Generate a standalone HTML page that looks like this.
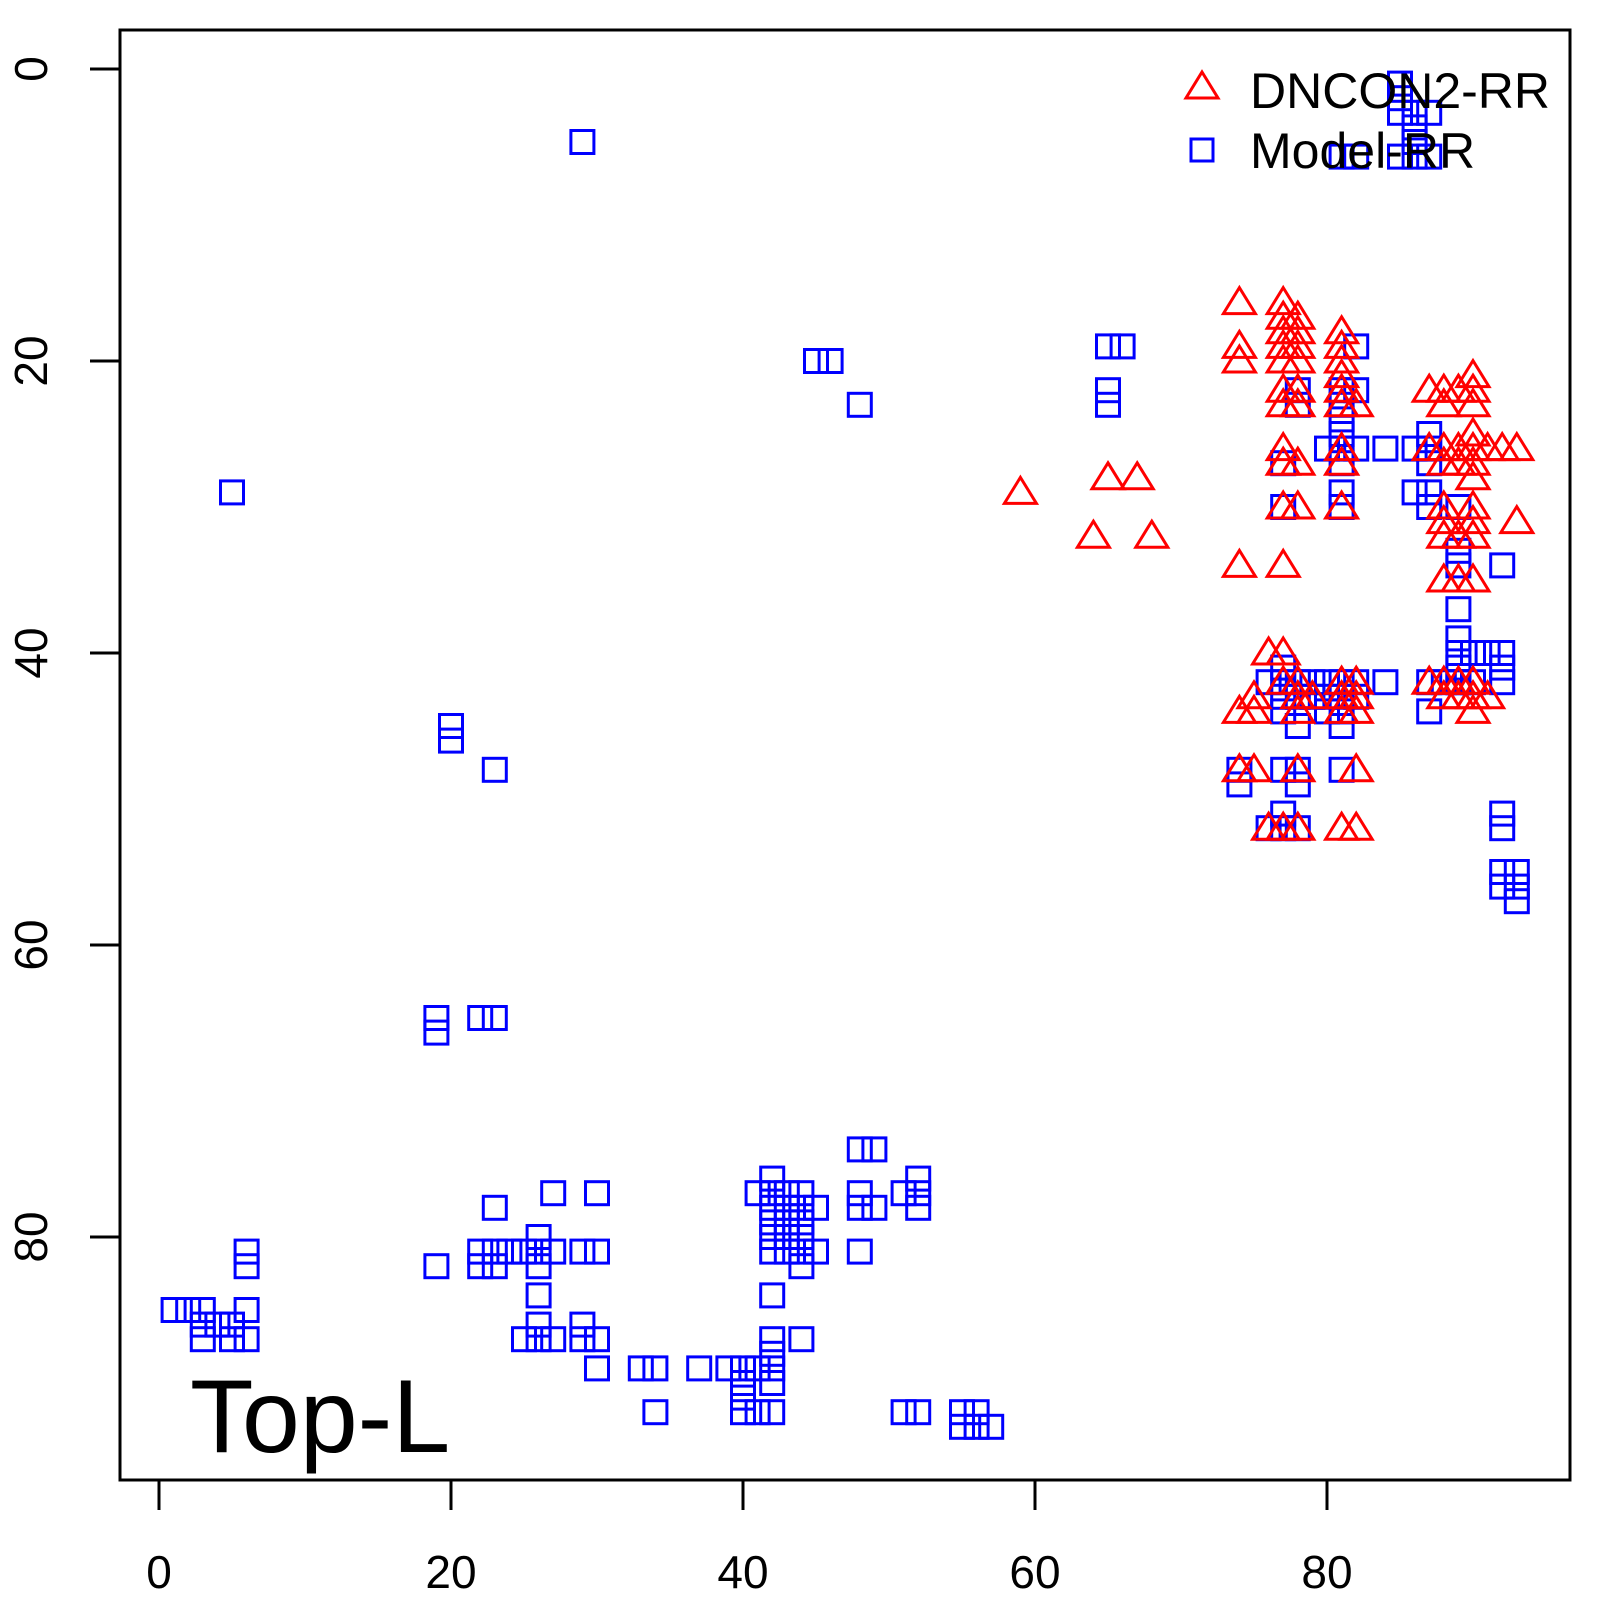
<!DOCTYPE html>
<html><head><meta charset="utf-8"><style>
html,body{margin:0;padding:0;background:#fff;}
svg{display:block;}
text{font-family:"Liberation Sans",sans-serif;}
</style></head><body>
<svg id="s" width="1600" height="1600" xmlns="http://www.w3.org/2000/svg">
<rect x="120" y="30" width="1450" height="1450" fill="none" stroke="#000" stroke-width="3"/>
<g stroke="#000" stroke-width="3">
<line x1="159" y1="1480" x2="159" y2="1510"/><line x1="451" y1="1480" x2="451" y2="1510"/><line x1="743" y1="1480" x2="743" y2="1510"/><line x1="1035" y1="1480" x2="1035" y2="1510"/><line x1="1327" y1="1480" x2="1327" y2="1510"/>
<line x1="90" y1="69" x2="120" y2="69"/><line x1="90" y1="361" x2="120" y2="361"/><line x1="90" y1="653" x2="120" y2="653"/><line x1="90" y1="945" x2="120" y2="945"/><line x1="90" y1="1237" x2="120" y2="1237"/>
</g>
<g font-size="46" text-anchor="middle">
<text x="159" y="1588">0</text><text x="451" y="1588">20</text><text x="743" y="1588">40</text><text x="1035" y="1588">60</text><text x="1327" y="1588">80</text>
<text transform="translate(47,69) rotate(-90)">0</text><text transform="translate(47,361) rotate(-90)">20</text><text transform="translate(47,653) rotate(-90)">40</text><text transform="translate(47,945) rotate(-90)">60</text><text transform="translate(47,1237) rotate(-90)">80</text>
</g>
<text x="190" y="1452" font-size="104">Top-L</text>
<g id="sq" fill="none" stroke="#0000ff" stroke-width="3"></g>
<g id="tr" fill="none" stroke="#ff0000" stroke-width="3"></g>
<polygon points="1202,72 1218,98 1186,98" fill="none" stroke="#ff0000" stroke-width="3"/>
<rect x="1191" y="139" width="22" height="22" fill="none" stroke="#0000ff" stroke-width="3"/>
<text x="1250" y="108" font-size="50">DNCON2-RR</text>
<text x="1250" y="168" font-size="50">Model-RR</text>
</svg>
<script>
var S=[[29,5],[5,29],[45,20],[46,20],[48,23],[65,19],[66,19],[65,22],[65,23],[20,45],[20,46],[23,48],[19,65],[19,66],[22,65],[23,65],
[85,1],[85,2],[85,3],[86,3],[86,4],[87,3],[86,5],[86,6],[85,6],[87,6],[81,6],[82,6],
[1,85],[2,85],[3,85],[3,86],[3,87],[4,86],[5,86],[5,87],[6,85],[6,87],[6,81],[6,82],
[19,82],[22,81],[22,82],[23,81],[23,82],[23,78],[24,81],[25,81],[25,87],[26,80],[26,81],[26,82],[26,84],[26,86],[26,87],[27,77],[27,81],[27,87],[29,81],[29,86],[29,87],[30,77],[30,81],[30,87],[30,89],
[33,89],[34,89],[34,92],[37,89],[39,89],[40,89],[40,90],[40,91],[40,92],[41,89],[41,92],[42,76],[42,77],[42,78],[42,79],[42,80],[42,81],[42,84],[42,87],[42,88],[42,89],[42,90],[42,92],[41,77],[43,77],[43,78],[43,79],[43,80],[43,81],[44,77],[44,78],[44,79],[44,80],[44,81],[44,82],[44,87],[45,78],[45,81],[48,74],[49,74],[48,77],[48,78],[49,78],[48,81],[51,77],[52,76],[52,77],[52,78],[51,92],[52,92],[55,92],[55,93],[56,92],[56,93],[57,93],
[82,19],[81,22],[82,22],[78,22],[78,23],[81,23],[81,24],[81,25],[80,26],[81,26],[82,26],[84,26],[86,26],[87,26],[87,25],[81,27],[87,27],[86,29],[87,29],[81,29],[81,30],[77,27],[77,30],[87,30],[89,30],[89,33],[89,34],[92,34],[89,37],[89,39],[89,40],[89,41],[89,42],[90,40],[91,40],[92,40],[92,41],[92,42],
[77,41],[76,42],[77,42],[78,42],[79,42],[80,42],[81,42],[82,42],[84,42],[87,42],[88,42],[89,42],[90,42],[77,43],[78,43],[79,43],[80,43],[81,43],[82,43],[80,44],[81,44],[77,44],[78,45],[81,45],[87,44],
[74,48],[77,48],[81,48],[78,48],[74,49],[78,49],[77,51],[76,52],[77,52],[78,52],[92,51],[92,52],[92,55],[92,56],[93,55],[93,56],[93,57]];
var T=[[59,29],[64,32],[65,28],[67,28],[68,32],[74,16],[74,19],[74,20],[74,34],[77,16],[77,17],[77,18],[77,19],[77,20],[78,17],[78,18],[78,19],[78,20],[77,22],[78,22],[77,23],[78,23],[77,26],[77,27],[78,27],[77,30],[78,30],[77,34],
[81,18],[81,19],[81,20],[81,21],[81,22],[81,23],[82,23],[81,26],[81,27],[81,30],
[87,22],[88,22],[88,23],[89,22],[90,21],[90,22],[90,23],[87,26],[88,26],[89,26],[90,25],[90,26],[91,26],[92,26],[93,26],[88,27],[89,27],[90,27],[90,28],[88,30],[88,31],[89,32],[88,32],[90,30],[90,31],[90,32],[88,35],[89,35],[90,35],[93,31],
[76,40],[77,40],[74,44],[75,43],[75,44],[77,42],[78,42],[78,43],[78,44],[79,43],[81,42],[81,43],[82,42],[82,43],[81,44],[82,44],[74,48],[75,48],[78,48],[82,48],[76,52],[77,52],[78,52],[81,52],[82,52],
[87,42],[88,42],[89,42],[90,42],[88,43],[89,43],[90,43],[91,43],[90,44]];
function X(d){return 159+14.6*d}function Y(d){return 69+14.6*d}
var sq='',tr='';
S.forEach(function(p){var x=X(p[0]),y=Y(p[1]);sq+='<rect x="'+(x-11.5)+'" y="'+(y-11.5)+'" width="23" height="23"/>';});
T.forEach(function(p){var x=X(p[0]),y=Y(p[1]);tr+='<polygon points="'+x+','+(y-15)+' '+(x+16)+','+(y+11)+' '+(x-16)+','+(y+11)+'"/>';});
document.getElementById('sq').innerHTML=sq;document.getElementById('tr').innerHTML=tr;
</script>
</body></html>
